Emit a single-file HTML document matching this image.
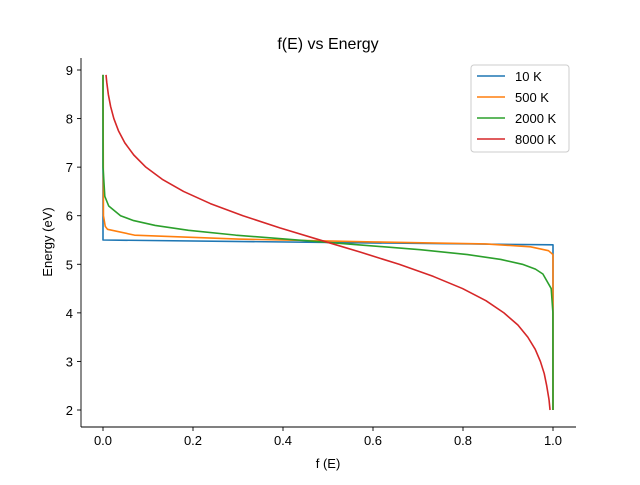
<!DOCTYPE html>
<html><head><meta charset="utf-8"><style>
body{margin:0;background:#fff;}
svg text{font-family:"Liberation Sans",sans-serif;}
</style></head><body>
<svg id="chart" width="640" height="480" xmlns="http://www.w3.org/2000/svg">
<rect width="640" height="480" fill="#fff"/>
<text x="328" y="49" font-size="16" text-anchor="middle">f(E) vs Energy</text>
<g id="plot"></g>
<text x="328" y="468" font-size="13" text-anchor="middle">f (E)</text>
<text transform="translate(52,242) rotate(-90)" font-size="13" text-anchor="middle">Energy (eV)</text>
</svg>
<script>
const xTicks=[0,0.2,0.4,0.6,0.8,1.0];
const xTickLabels=["0.0","0.2","0.4","0.6","0.8","1.0"];
const yTicks=[2,3,4,5,6,7,8,9];
const seriesNames=["10 K","500 K","2000 K","8000 K"];
const seriesColors=["#1f77b4","#ff7f0e","#2ca02c","#d62728"];
const f10=[0,0,1,1];
const e10=[8.9,5.5,5.4,2];
const f500=[0,0.001,0.005,0.01,0.07,0.3,0.6,0.85,0.95,0.99,1,1];
const e500=[8.9,6.0,5.78,5.72,5.6,5.52,5.46,5.42,5.36,5.28,5.2,2];
const f2000=[0,0.0001,0.004,0.0127,0.039,0.068,0.116,0.19,0.295,0.5,0.705,0.81,0.884,0.932,0.961,0.9775,0.996,0.9998,1];
const e2000=[8.9,7.0,6.4,6.2,6.0,5.9,5.8,5.7,5.6,5.45,5.3,5.2,5.1,5.0,4.9,4.8,4.5,4.0,2];
const f8000=[0.0067,0.0083,0.0118,0.0169,0.0241,0.0343,0.0485,0.0684,0.0953,0.1316,0.179,0.2385,0.311,0.393,0.5,0.572,0.658,0.734,0.799,0.851,0.891,0.922,0.944,0.9605,0.972,0.9805,0.986,0.9905,0.9913,0.9934];
const e8000=[8.9,8.75,8.5,8.25,8.0,7.75,7.5,7.25,7.0,6.75,6.5,6.25,6.0,5.75,5.45,5.25,5.0,4.75,4.5,4.25,4.0,3.75,3.5,3.25,3.0,2.75,2.5,2.25,2.2,2.0];
const allF=[f10,f500,f2000,f8000], allE=[e10,e500,e2000,e8000];
const L=81,R=576,T=58,B=427;
const xs=v=>103+v*450;
const ys=v=>70+(9-v)*(340/7);
const NS="http://www.w3.org/2000/svg";
const g=document.getElementById('plot');
function mk(t,a,txt){const e=document.createElementNS(NS,t);for(const k in a)e.setAttribute(k,a[k]);if(txt!=null)e.textContent=txt;g.appendChild(e);return e;}
allF.forEach((fa,i)=>{
  const pts=fa.map((f,j)=>xs(f).toFixed(2)+','+ys(allE[i][j]).toFixed(2)).join(' ');
  const p=mk('polyline',{points:pts,fill:'none',stroke:seriesColors[i],'stroke-width':1.6,'stroke-linejoin':'round'});
  
  
});
const ax=mk('line',{x1:L,y1:B,x2:R,y2:B,stroke:'#000','stroke-width':0.9});


const ay=mk('line',{x1:L,y1:T,x2:L,y2:B,stroke:'#000','stroke-width':0.9});


xTicks.forEach((v,i)=>{
  mk('line',{x1:xs(v),y1:B,x2:xs(v),y2:B+4,stroke:'#000','stroke-width':0.9});
  const t=mk('text',{x:xs(v),y:B+18,'font-size':13,'text-anchor':'middle'},xTickLabels[i]);
  
  
});
yTicks.forEach(v=>{
  mk('line',{x1:L-4,y1:ys(v),x2:L,y2:ys(v),stroke:'#000','stroke-width':0.9});
  const t=mk('text',{x:L-8,y:ys(v)+5,'font-size':13,'text-anchor':'end'},String(v));
  
  
});
const lg=mk('rect',{x:471,y:65,width:98,height:87,rx:3,fill:'#fff',stroke:'#ccc','stroke-width':1});


seriesNames.forEach((n,i)=>{
  const y=76+i*21;
  mk('line',{x1:477,y1:y,x2:505,y2:y,stroke:seriesColors[i],'stroke-width':1.6});
  const t=mk('text',{x:515,y:y+5,'font-size':13},n);
  
  
});
</script>
</body></html>
